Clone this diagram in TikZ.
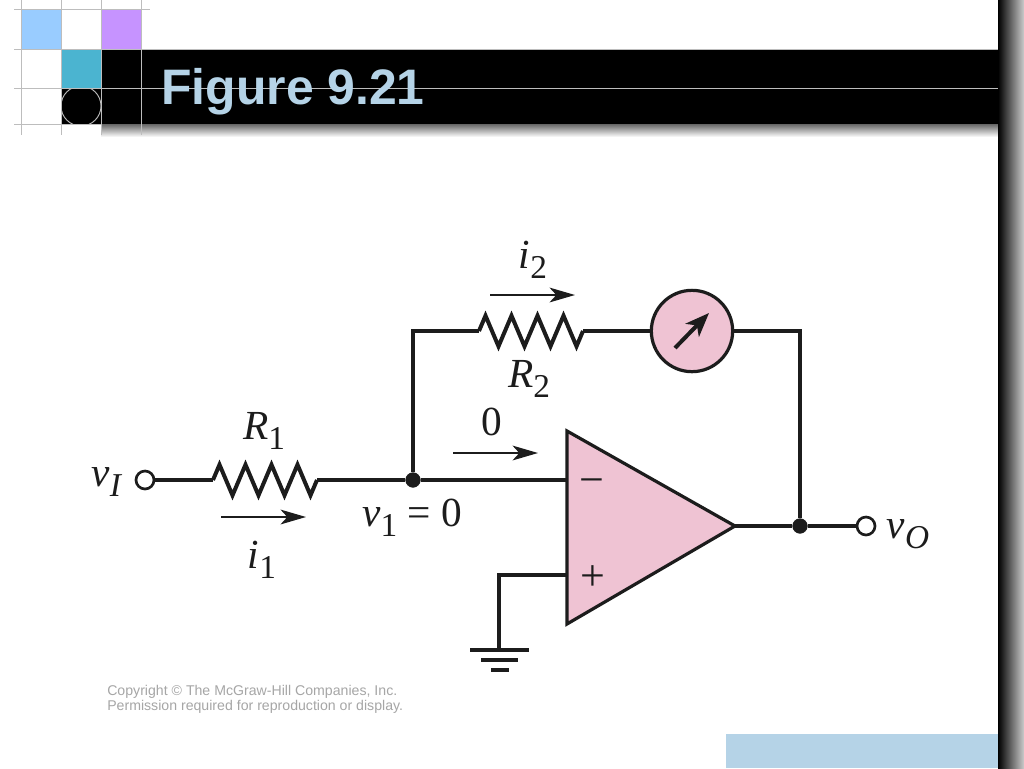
\documentclass[tikz,border=0pt]{standalone}
\usepackage{fontspec}
\setmainfont{Liberation Serif}
\newfontfamily\titlefont{Liberation Sans}
\usetikzlibrary{arrows.meta,decorations.pathmorphing}
\definecolor{titleblue}{HTML}{B5D3E7}
\definecolor{skyblue}{HTML}{99CCFF}
\definecolor{lilac}{HTML}{C693FF}
\definecolor{teal2}{HTML}{4BB4D0}
\definecolor{ampfill}{HTML}{EFC3D3}
\definecolor{gridgrey}{HTML}{BDBDBD}
\definecolor{wirecol}{HTML}{1C1C1C}
\newcommand{\sublab}[2]{\textit{#1}\raisebox{-0.25em}{\fontsize{25}{25}\selectfont #2}}
\tikzset{
  wire/.style={draw=wirecol,line width=3pt},
  thinwire/.style={draw=wirecol,line width=2.4pt},
  gridline/.style={draw=gridgrey,line width=0.7pt},
  resistor/.style={wire,line join=miter,decorate,decoration={zigzag,segment length=19.5pt,amplitude=11.5pt}},
  flow/.style={draw=wirecol,line width=2pt,-{Stealth[length=19pt,width=11pt,inset=5pt]}},
  needle/.style={draw=wirecol,line width=3pt,-{Stealth[length=18pt,width=14pt,inset=5pt]}},
  terminal/.style={draw=wirecol,shape=circle,fill=white,line width=2pt,inner sep=0,minimum size=13.5pt},
  joint/.style={draw=wirecol,shape=circle,fill=wirecol,inner sep=0,minimum size=11pt},
  mathlab/.style={inner sep=0,text=wirecol,font=\fontsize{31}{32}\selectfont},
  signlab/.style={inner sep=0,text=wirecol,font=\fontsize{33}{33}\selectfont},
  notelab/.style={inner sep=0,anchor=west,text=black!35,font=\titlefont\fontsize{10.6}{11}\selectfont}
}
\begin{document}
\begin{tikzpicture}[x=0.75pt,y=-0.75pt]
\useasboundingbox (0,0) rectangle (1024,768);
\fill[white] (0,0) rectangle (1024,768);

\shade[top color=black!60,bottom color=white] (101,124) rectangle (998,137);
\shade[left color=black,right color=black!20] (998,0) rectangle (1024,768);
\fill[black] (101,49) rectangle (998,124);
\fill[black] (61,88) rectangle (101,124);
\fill[skyblue] (21,9) rectangle (61,49);
\fill[lilac] (101,9) rectangle (141,49);
\fill[teal2] (61,49) rectangle (101,88);
\fill[titleblue] (726,734) rectangle (998,768);

\draw[gridline] (14,9) -- (150,9);
\draw[gridline] (14,49) -- (998,49);
\draw[gridline] (14,88) -- (998,88);
\draw[gridline] (14,124) -- (101,124);
\draw[gridline] (21,0) -- (21,135);
\draw[gridline] (61,0) -- (61,135);
\draw[gridline] (101,0) -- (101,135);
\draw[gridline] (141,0) -- (141,135);
\begin{scope}
\clip (61,88) rectangle (101,124);
\draw[gridline] (81,106) circle (20);
\end{scope}
\node[inner sep=0,text=titleblue,font=\titlefont\bfseries\fontsize{37.4}{40}\selectfont] (title) at (293,92) {Figure 9.21};

\fill[ampfill,draw=wirecol,line width=2.4pt,line join=miter] (567,431) coordinate (ampa) -- (735,526) coordinate (ampout) -- (567,624) coordinate (ampb) -- cycle;
\coordinate (ampminus) at (567,480);
\coordinate (ampplus) at (567,575);
\node[signlab] (minus) at (592,487) {\textminus};
\node[signlab] (plus) at (593,578) {+};

\node[terminal] (vin) at (145,480) {};
\node[terminal] (vout) at (866,526) {};
\node[joint] (n1) at (413,480) {};
\node[joint] (n2) at (800,526) {};
\node[draw=wirecol,fill=ampfill,shape=circle,line width=2.4pt,inner sep=0,minimum size=61pt] (meter) at (692,331) {};
\coordinate (r1a) at (213,480);
\coordinate (r1b) at (317,480);
\coordinate (r2a) at (479,331);
\coordinate (r2b) at (583,331);
\coordinate (c1) at (413,331);
\coordinate (c2) at (800,331);
\coordinate (g0) at (499,575);
\coordinate (g1) at (499,650);

\draw[thinwire] (vin) -- (r1a);
\draw[resistor] (r1a) -- (r1b);
\draw[thinwire] (r1b) -- (n1);
\draw[thinwire] (n1) -- (ampminus);
\draw[thinwire] (n1) -- (c1) -- (r2a);
\draw[resistor] (r2a) -- (r2b);
\draw[thinwire] (r2b) -- (meter);
\draw[thinwire] (meter) -- (c2) -- (n2);
\draw[thinwire] (ampout) -- (n2);
\draw[thinwire] (n2) -- (vout);
\draw[thinwire] (ampplus) -- (g0) -- (g1);

\coordinate (g1l) at (470,650);
\coordinate (g1r) at (529,650);
\coordinate (g2l) at (481,660);
\coordinate (g2r) at (518,660);
\coordinate (g3l) at (491,670);
\coordinate (g3r) at (509,670);
\draw[wire] (g1l) -- (g1r);
\draw[wire] (g2l) -- (g2r);
\draw[wire] (g3l) -- (g3r);

\coordinate (m1) at (675,348);
\coordinate (m2) at (709,313);
\draw[needle] (m1) -- (m2);
\coordinate (f1a) at (221,517);
\coordinate (f1b) at (306,517);
\coordinate (f2a) at (490,295);
\coordinate (f2b) at (575,295);
\coordinate (f3a) at (453,453);
\coordinate (f3b) at (538,453);
\draw[flow] (f1a) -- (f1b);
\draw[flow] (f2a) -- (f2b);
\draw[flow] (f3a) -- (f3b);

\node[mathlab] (li2) at (533,260) {\sublab{i}{2}};
\node[mathlab] (lr2) at (529,379) {\sublab{R}{2}};
\node[mathlab] (lzero) at (492,422) {0};
\node[mathlab] (lr1) at (264,431) {\sublab{R}{1}};
\node[mathlab] (lvi) at (107,482) {\sublab{v}{\textit{I}}};
\node[mathlab] (lv1) at (412,518) {\sublab{v}{1} = 0};
\node[mathlab] (li1) at (262,560) {\sublab{i}{1}};
\node[mathlab] (lvo) at (908,534) {\sublab{v}{\textit{O}}};

\node[notelab] (note1) at (107,692) {Copyright © The McGraw-Hill Companies, Inc.};
\node[notelab] (note2) at (107,707) {Permission required for reproduction or display.};
\end{tikzpicture}
\end{document}
